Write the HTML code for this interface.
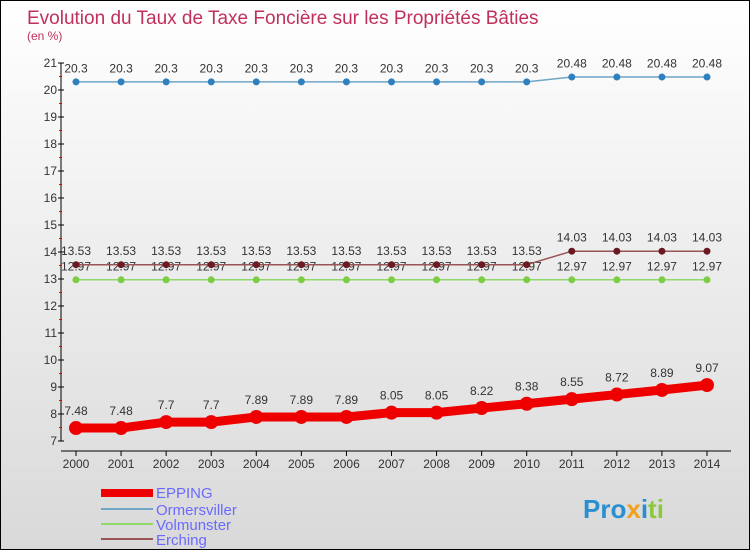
<!DOCTYPE html>
<html><head><meta charset="utf-8"><style>
body{margin:0}
#c{width:748px;height:548px;border:1px solid #000;background:linear-gradient(#fff,#d9d9d9);position:relative;font-family:"Liberation Sans",sans-serif;overflow:hidden}
</style></head><body>
<div id="c">
<svg id="s" width="748" height="548" style="position:absolute;left:0;top:0" font-family="Liberation Sans, sans-serif">
<text x="26" y="23" font-size="19" fill="#c0305a">Evolution du Taux de Taxe Foncière sur les Propriétés Bâties</text>
<text x="26" y="39" font-size="12" fill="#c0305a">(en %)</text>
<g id="axes"></g><g id="series"></g>
<g>
<rect x="100" y="488" width="52" height="8" fill="#e00"/>
<text x="155" y="497" font-size="15" fill="#6a6aff">EPPING</text>
<rect x="100" y="507" width="52" height="2" fill="#6fa6c8"/>
<text x="155" y="514" font-size="15" fill="#6a6aff">Ormersviller</text>
<rect x="100" y="522" width="52" height="2" fill="#8fd86a"/>
<text x="155" y="529" font-size="15" fill="#6a6aff">Volmunster</text>
<rect x="100" y="537" width="52" height="2" fill="#955"/>
<text x="155" y="544" font-size="15" fill="#6a6aff">Erching</text>
</g>
<text x="582" y="517" font-size="26" font-weight="bold"><tspan fill="#2a8fd0">Pro</tspan><tspan fill="#f0a020">x</tspan><tspan fill="#2a8fd0">i</tspan><tspan fill="#8cc83c">ti</tspan></text>
</svg>
</div>
<script>
const years=[2000,2001,2002,2003,2004,2005,2006,2007,2008,2009,2010,2011,2012,2013,2014];
const yTicks=[7,8,9,10,11,12,13,14,15,16,17,18,19,20,21];
const epping=[7.48,7.48,7.7,7.7,7.89,7.89,7.89,8.05,8.05,8.22,8.38,8.55,8.72,8.89,9.07];
const ormersviller=[20.3,20.3,20.3,20.3,20.3,20.3,20.3,20.3,20.3,20.3,20.3,20.48,20.48,20.48,20.48];
const volmunster=[12.97,12.97,12.97,12.97,12.97,12.97,12.97,12.97,12.97,12.97,12.97,12.97,12.97,12.97,12.97];
const erching=[13.53,13.53,13.53,13.53,13.53,13.53,13.53,13.53,13.53,13.53,13.53,14.03,14.03,14.03,14.03];
const NS="http://www.w3.org/2000/svg";
const X=i=>75+i*(706-75)/(years.length-1);
const Y=v=>440-(v-7)*27;
function mk(p,t,a){const e=document.createElementNS(NS,t);for(const k in a)e.setAttribute(k,a[k]);p.appendChild(e);return e;}
const ax=document.getElementById('axes'),sg=document.getElementById('series');
let yl=mk(ax,'line',{x1:60,y1:62,x2:60,y2:440,stroke:'#000'});


let xl=mk(ax,'line',{x1:60,y1:450,x2:730,y2:450,stroke:'#000'});


yTicks.forEach((v,i)=>{
 mk(ax,'line',{x1:57,y1:Y(v),x2:63,y2:Y(v),stroke:'#000'});
 if(i<yTicks.length-1)mk(ax,'line',{x1:58,y1:Y(v+0.5),x2:61,y2:Y(v+0.5),stroke:'#e00'});
 const t=mk(ax,'text',{x:56,y:Y(v)+4,'font-size':12,'text-anchor':'end',fill:'#333'});t.textContent=v;
 
 
});
years.forEach((y,i)=>{
 mk(ax,'line',{x1:X(i),y1:450,x2:X(i),y2:455,stroke:'#000'});
 const t=mk(ax,'text',{x:X(i),y:467,'font-size':12,'text-anchor':'middle',fill:'#333'});t.textContent=y;
 
 
});
function series(name,data,color,w,r,fill){
 const g=mk(sg,'g',{});
 
 
 mk(g,'polyline',{points:data.map((v,i)=>X(i)+','+Y(v)).join(' '),fill:'none',stroke:color,'stroke-width':w,'stroke-linejoin':'round'});
 data.forEach((v,i)=>{
  const c=mk(g,'circle',{cx:X(i),cy:Y(v),r:r,fill:fill});
  
  
  const t=mk(g,'text',{x:X(i),y:Y(v)-(r+6),'font-size':12,'text-anchor':'middle',fill:'#333'});t.textContent=v;
 });
}
series('volmunster',volmunster,'#8fd86a',1.5,3.5,'#7ccc44');
series('erching',erching,'#955',1.5,3.5,'#6b1a22');
series('ormersviller',ormersviller,'#6fa6c8',1.5,3.5,'#2f80bf');
series('epping',epping,'#e00',9,7,'#e00');
</script>
</body></html>
